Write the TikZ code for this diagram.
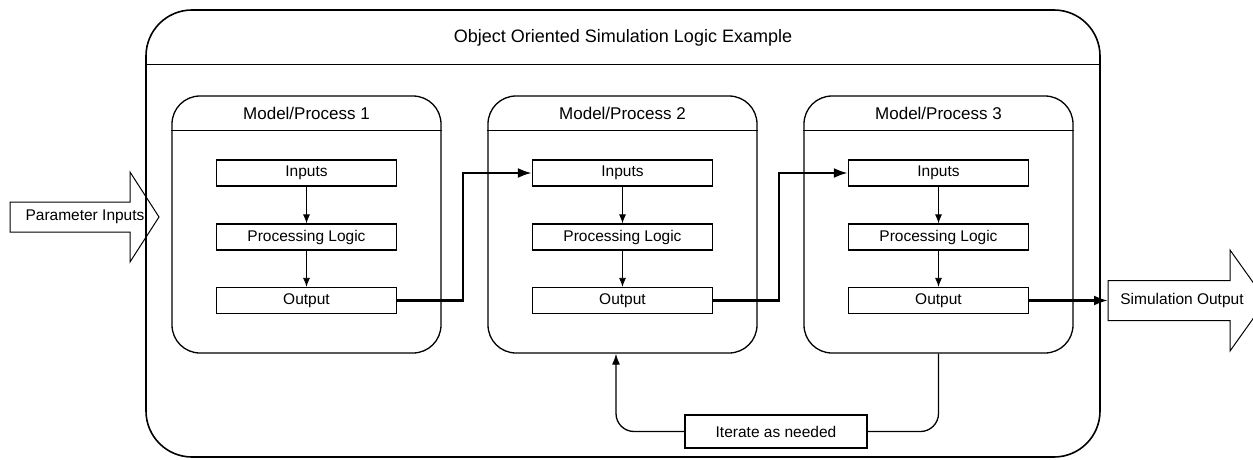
\documentclass[tikz,border=0pt]{standalone}
\usepackage{fontspec}
\setmainfont{Liberation Sans}
\usetikzlibrary{arrows.meta,positioning,calc}

\tikzset{
  modelbox/.style={draw, line width=1.3pt, rounded corners=28pt, minimum width=269pt, minimum height=257pt},
  stepbox/.style={draw, line width=1.3pt, minimum width=180pt, minimum height=26pt, inner sep=0pt, font=\fontsize{15.5}{17}\selectfont},
  headtext/.style={font=\fontsize{17}{19}\selectfont},
  flow/.style={-{Latex[length=9pt,width=7pt]}, line width=0.8pt},
  passon/.style={-{Latex[length=14pt,width=10pt]}, line width=2.5pt, line join=miter},
  loopline/.style={line width=1.3pt, rounded corners=18pt},
  bigarrow/.style={draw, line width=1pt, line join=miter},
}

\begin{document}
\begin{tikzpicture}[x=1pt,y=1pt]
  \useasboundingbox (0,0) rectangle (1253,459);
  % outer frame with title bar
  \node[draw, line width=1.6pt, rounded corners=46pt, minimum width=954pt, minimum height=447pt] (frame) at (623,225.5) {};
  \draw[line width=1pt] ([yshift=-55pt]frame.north west) -- ([yshift=-55pt]frame.north east);
  \node[font=\fontsize{18}{20}\selectfont] (title) at (623,421) {Object Oriented Simulation Logic Example};

  % the three models
  \foreach \i/\x in {1/306.5, 2/622.5, 3/938.5} {
    \node[modelbox] (m\i) at (\x,234.5) {};
    \draw[line width=1pt] ([yshift=-35pt]m\i.north west) -- ([yshift=-35pt]m\i.north east);
    \node[headtext] (h\i) at (\x,346) {Model/Process \i};
    \node[stepbox] (in\i) at (\x,286) {Inputs};
    \node[stepbox] (pl\i) at (\x,222) {Processing Logic};
    \node[stepbox] (out\i) at (\x,158.5) {Output};
    \draw[flow] (in\i) -- (pl\i);
    \draw[flow] (pl\i) -- (out\i);
  }

  % model to model
  \draw[passon] (out1.east) -- ++(66,0) |- (in2.west);
  \draw[passon] (out2.east) -- ++(66,0) |- (in3.west);

  % parameter inputs arrow
  \draw[bigarrow] (10,257) -- (130,257) -- (130,287) -- (159,242) -- (130,197) -- (130,227) -- (10,227) -- cycle;
  \node[font=\fontsize{15.5}{17}\selectfont] (paramin) at (85,242) {Parameter Inputs};

  % simulation output arrow
  \draw[bigarrow] (1108,178.5) -- (1230,178.5) -- (1230,209) -- (1266,158.5) -- (1230,108) -- (1230,138.5) -- (1108,138.5) -- cycle;
  \coordinate (simtail) at (1108,158.5);
  \node[font=\fontsize{15.5}{17}\selectfont] (simout) at (1182,158.5) {Simulation Output};
  \draw[passon] (out3.east) -- (simtail);

  % iteration loop
  \node[draw, line width=1.3pt, minimum width=182pt, minimum height=33pt, font=\fontsize{15.5}{17}\selectfont] (iter) at (776,27.5) {Iterate as needed};
  \draw[loopline] (m3.south) |- (iter.east);
  \draw[loopline, -{Latex[length=11pt,width=8pt]}] (iter.west) -| ([xshift=-6.5pt]m2.south);
\end{tikzpicture}
\end{document}
